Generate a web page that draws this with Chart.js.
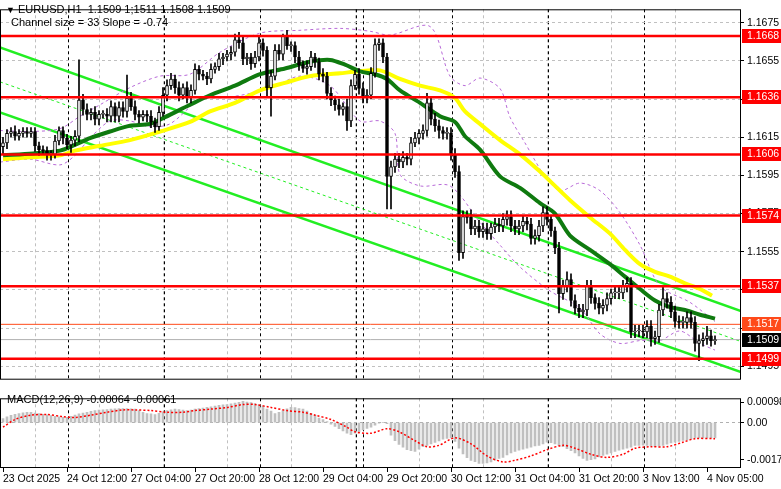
<!DOCTYPE html>
<html>
<head>
<meta charset="utf-8">
<script src="https://cdn.jsdelivr.net/npm/chart.js@4.4.1/dist/chart.umd.min.js"></script>
<style>
  body { margin: 0; width: 781px; height: 489px; background: #fff; overflow: hidden; position: relative; font-family: "Liberation Sans", sans-serif; }
  #main { position: absolute; left: 0; top: 0; }
  #macd { position: absolute; left: 0; top: 389px; }
  .txt { position: absolute; font-size: 11px; color: #000; white-space: pre; }
</style>
</head>
<body>
<canvas id="main" width="781" height="389"></canvas>
<canvas id="macd" width="781" height="100"></canvas>
<div class="txt" style="left:6px;top:3px;"><span style="font-size:9px">&#9660;</span> EURUSD,H1  1.1509 1;1511 1.1508 1.1509</div>
<div class="txt" style="left:11px;top:16px;">Channel size = 33 Slope = -0.74</div>
<div class="txt" style="left:7px;top:393px;">MACD(12,26,9) -0.00064 -0.00061</div>
<script>
document.addEventListener('DOMContentLoaded', function() {
    // --- data ---
    const timeLabels = ['23 Oct 2025', '24 Oct 12:00', '27 Oct 04:00', '27 Oct 20:00', '28 Oct 12:00', '29 Oct 04:00',
        '29 Oct 20:00', '30 Oct 12:00', '31 Oct 04:00', '31 Oct 20:00', '3 Nov 13:00', '4 Nov 05:00'];
    const firstOpen = 1.1610;
    const closes = [
        1.1612, 1.1617, 1.1618, 1.16155, 1.1617, 1.1618, 1.1617, 1.1618, 1.16105, 1.16085,
        1.1608, 1.1606, 1.1606, 1.1613, 1.16185, 1.16145, 1.1611, 1.16135, 1.16155, 1.16345,
        1.16295, 1.1627, 1.1628, 1.16245, 1.1627, 1.1627, 1.1626, 1.1631, 1.1626, 1.16305,
        1.16285, 1.16355, 1.1631, 1.1627, 1.16255, 1.1627, 1.1626, 1.1623, 1.16205, 1.1628,
        1.1637, 1.1642, 1.16455, 1.1641, 1.1637, 1.1641, 1.1636, 1.16395, 1.16505, 1.1648,
        1.1647, 1.16455, 1.16505, 1.1652, 1.1656, 1.1657, 1.16585, 1.16595, 1.1666, 1.16645,
        1.1656, 1.1657, 1.16535, 1.1657, 1.16645, 1.16605, 1.1641, 1.1647, 1.16605, 1.16585,
        1.1668, 1.1663, 1.1663, 1.1657, 1.1653, 1.1651, 1.1652, 1.1657, 1.16545, 1.1648,
        1.1647, 1.1638, 1.16345, 1.1632, 1.16295, 1.1631, 1.16235, 1.1642, 1.1648, 1.16405,
        1.1636, 1.1637, 1.16485, 1.16635, 1.16645, 1.1657, 1.15945, 1.15995, 1.16035, 1.1602,
        1.16045, 1.16035, 1.1612, 1.16145, 1.1617, 1.16185, 1.1633, 1.16245, 1.1621, 1.16185,
        1.1617, 1.1617, 1.1606, 1.1597, 1.15545, 1.15735, 1.1573, 1.1567, 1.15685, 1.15655,
        1.1567, 1.15645, 1.1568, 1.15695, 1.15685, 1.1572, 1.15735, 1.15685, 1.1567, 1.15685,
        1.1571, 1.15695, 1.1562, 1.15635, 1.15685, 1.15755, 1.1572, 1.1566, 1.1557, 1.1533,
        1.1537, 1.15405, 1.15295, 1.15255, 1.15235, 1.15245, 1.1537, 1.1531, 1.1528, 1.15255,
        1.1527, 1.15305, 1.15335, 1.15335, 1.15335, 1.1537, 1.15385, 1.1513, 1.15135, 1.15135,
        1.1513, 1.1516, 1.15095, 1.15105, 1.15245, 1.15305, 1.15285, 1.15235, 1.15185, 1.1518,
        1.1518, 1.15205, 1.1518, 1.1507, 1.15085, 1.15095, 1.1511, 1.15085, 1.1509
    ];
    // wick length above / below the body, in pips
    const upperWick = [
        3,2,2,3,2,2,2,2,2,2,2,2,2,3,2,2,2,2,3,21,
        3,3,2,3,2,2,3,3,2,3,3,12,3,3,2,2,2,3,2,3,
        4,3,3,2,3,2,3,3,3,2,2,2,3,2,3,2,2,3,3,4,
        3,2,2,3,3,2,2,3,3,3,1,3,2,2,3,2,3,3,2,2,
        3,2,3,2,3,2,4,3,2,3,3,3,3,3,2,2,2,3,3,3,
        3,2,3,3,2,3,5,3,3,3,2,3,3,3,3,3,3,4,3,3,
        3,3,2,3,3,3,3,3,3,3,3,2,3,3,3,3,3,2,2,3,
        3,4,3,3,2,3,3,3,2,3,3,3,2,3,3,3,3,3,3,3,
        3,3,3,3,3,6,3,3,3,3,3,3,3,3,3,3,5,3,2
    ];
    const lowerWick = [
        4,3,2,2,2,2,2,2,3,3,2,3,3,2,2,3,2,4,3,3,
        3,3,3,3,3,2,3,3,3,3,3,3,2,3,3,2,3,3,3,2,
        2,3,2,3,3,2,3,3,2,3,2,3,2,2,2,3,2,3,2,3,
        3,3,3,2,2,3,5,15,2,3,3,2,3,3,3,2,3,2,3,3,
        3,3,3,3,3,3,5,3,2,3,3,3,2,2,3,3,17,17,3,3,
        3,3,3,2,3,3,3,3,3,4,3,3,3,3,4,3,3,3,3,3,
        3,3,3,3,3,3,3,3,3,3,3,3,3,3,3,3,3,3,3,10,
        3,3,3,3,3,3,3,3,3,3,3,3,3,3,3,3,3,3,3,3,
        3,3,4,3,3,3,3,3,3,3,3,3,3,4,9,3,3,3,2
    ];
    // moving averages, [bar, price]
    const maFast = [[0,1.16055],[7.5,1.16065],[14.25,1.1608],[18,1.1611],[21.75,1.16145],[26.75,1.1618],
        [31.75,1.1621],[36.75,1.1622],[40.5,1.16255],[46.75,1.1632],[51.75,1.1637],[58,1.1642],[64.25,1.1648],
        [70.5,1.1651],[76.75,1.16545],[81.75,1.16555],[85.5,1.1653],[89.25,1.16495],[93,1.1648],[96,1.16455],
        [99.25,1.16395],[104.25,1.1633],[109.25,1.1626],[113,1.1623],[115.5,1.16155],[119.25,1.16085],
        [124.25,1.15945],[129.25,1.15885],[134.25,1.15805],[138,1.1575],[141.75,1.15635],[146.75,1.1556],
        [151.75,1.15485],[155.5,1.1542],[159.25,1.15355],[163,1.15295],[166.75,1.1526],[170.5,1.15245],
        [174.25,1.1522],[178,1.152]];
    const maSlow = [[0,1.16035],[6.75,1.16045],[14.25,1.16055],[18,1.1608],[24.25,1.16105],[31.75,1.16135],
        [39.25,1.1618],[46.75,1.1623],[51.75,1.16285],[58,1.1633],[64.25,1.16395],[70.5,1.16435],[76.75,1.1647],
        [84.25,1.16485],[89.25,1.16495],[94.25,1.165],[99.25,1.16455],[104.25,1.1642],[109.25,1.16395],
        [113,1.16355],[115.5,1.16285],[119.25,1.1622],[124.25,1.16135],[129.25,1.1606],[134.25,1.1597],
        [138,1.15895],[141.75,1.1582],[146.75,1.1573],[151.75,1.15645],[155.5,1.1556],[159.25,1.15485],
        [163,1.15445],[166.75,1.1542],[170.5,1.15385],[174.25,1.15355],[177.25,1.1532]];
    const bandUpper = [[-0.75,1.16185],[6.75,1.1618],[14.25,1.16195],[19.25,1.1626],[24.25,1.1632],[31.75,1.1641],
        [39.25,1.1647],[46.75,1.1648],[54.25,1.16595],[64.25,1.16695],[74.25,1.1671],[84.25,1.1672],[91.75,1.16705],
        [96.75,1.16685],[106.75,1.1673],[111.75,1.1647],[115.5,1.1642],[119.25,1.1646],[124.25,1.16405],
        [126.75,1.16255],[130.5,1.1612],[135.5,1.15945],[139.25,1.1587],[144.25,1.1591],[149.25,1.1587],
        [154.25,1.15755],[159.25,1.15585],[164.25,1.1537],[171.75,1.15285],[178,1.15185]];
    const bandLower = [[-0.75,1.1602],[6.75,1.16035],[14.25,1.16005],[18,1.16055],[21.75,1.16145],[26.75,1.16235],
        [31.75,1.16235],[36.75,1.16205],[41.75,1.1622],[49.25,1.16345],[56.75,1.1636],[66.75,1.16405],[74.25,1.1647],
        [81.75,1.1642],[89.25,1.16235],[94.25,1.16235],[98,1.1617],[99.25,1.15955],[104.25,1.15895],[111.75,1.15895],
        [119.25,1.15705],[124.25,1.15585],[129.25,1.1547],[136.75,1.15345],[144.25,1.15255],[149.25,1.1512],
        [154.25,1.1507],[159.25,1.15085],[164.25,1.15085],[169.25,1.15135],[174.25,1.1507],[178,1.15035]];
    // regression channel
    const channelTop = [[-0.75,1.1662],[184.5,1.1524]];
    const channelMid = [[-0.75,1.1644],[184.5,1.1508]];
    const channelBottom = [[-0.75,1.1628],[184.5,1.1492]];
    const levels = [1.1668, 1.1636, 1.1606, 1.1574, 1.1537, 1.1499];
    const askLevel = 1.1517;
    const bidLevel = 1.1509;
    const priceTicks = [1.1495, 1.1515, 1.1535, 1.1555, 1.1575, 1.1595, 1.1615, 1.1635, 1.1655, 1.1675];
    // MACD, in units of 0.00001
    const macdHist = [
        20,28,35,40,44,47,50,49,46,44, 40,37,34,30,28,26,25,30,36,42,
        46,50,54,58,60,62,63,65,66,67, 68,67,66,65,58,50,44,42,39,45,
        52,58,62,65,63,60,58,60,65,68, 70,73,76,80,83,86,87,90,94,98,
        102,99,97,92,87,80,65,55,44,50, 58,66,73,72,68,65,55,45,36,22,
        15,5,-7,-18,-29,-40,-50,-58,-50,-44, -35,-28,-22,-12,-3,0,-5,-60,-87,-105,
        -118,-130,-135,-138,-128,-116,-110,-102,-95,-88, -80,-76,-73,-90,-123,-150,-168,-181,-188,-196,
        -196,-194,-189,-180,-172,-167,-155,-145,-138,-132, -128,-123,-118,-112,-109,-102,-94,-96,-102,-110,
        -116,-125,-135,-145,-160,-172,-181,-178,-174,-165, -158,-152,-145,-138,-132,-128,-123,-118,-109,-109,
        -108,-109,-112,-116,-113,-109,-104,-98,-94,-90, -86,-83,-78,-73,-73,-73,-73,-73,-73
    ];
    const macdSignal = [[0,-22],[3,15],[7,36],[11,39],[15,29],[18,25],[22,36],[26,50],[30,61],[33,61],[37,58],
        [41,50],[45,50],[48,58],[52,65],[56,73],[60,87],[63,87],[67,73],[71,58],[75,50],[78,36],[82,15],[86,-22],
        [88,-44],[92,-51],[96,-29],[99,-44],[103,-87],[106,-116],[109,-109],[113,-73],[117,-102],[121,-160],
        [125,-189],[128,-181],[132,-160],[136,-130],[140,-109],[143,-123],[147,-152],[151,-167],[155,-152],
        [158,-123],[162,-116],[166,-116],[170,-94],[173,-77],[178,-77]];
    const macdTicks = [0.00098, 0, -0.00179];

    // --- layout helpers ---
    const X_MIN = -0.75, X_MAX = 184.5, AXIS_W = 40;
    const labelBars = timeLabels.map((t, i) => i * 16);
    const dayBars = [];
    for (let b = 4.25; b < X_MAX; b += 24) dayBars.push(b);
    const gridBars = labelBars.concat(dayBars);
    const pts = arr => arr.map(p => ({ x: p[0], y: p[1] }));
    const span = v => [{ x: X_MIN, y: v }, { x: X_MAX, y: v }];
    const font = { family: 'Liberation Sans', size: 10.5 };

    // candles: open is previous close
    const opens = closes.map((c, i) => i === 0 ? firstOpen : closes[i - 1]);
    const bodies = closes.map((c, i) => ({ x: i, y: [opens[i], c] }));
    const wicks = closes.map((c, i) => ({
        x: i,
        y: [Math.min(opens[i], c) - lowerWick[i] / 10000, Math.max(opens[i], c) + upperWick[i] / 10000]
    }));
    const bodyFill = closes.map((c, i) => c >= opens[i] ? '#ffffff' : '#000000');

    const xGrid = {
        type: 'linear', min: X_MIN, max: X_MAX, offset: false,
        afterBuildTicks: s => { s.ticks = gridBars.map(v => ({ value: v })); },
        ticks: { display: false },
        grid: { color: c => (c.tick && dayBars.includes(c.tick.value) ? '#000000' : '#c0c0c0'), drawTicks: false, lineWidth: 1 },
        border: { display: false, dash: [3, 3] },
        afterFit: s => { s.height = 0; }
    };

    const frame = {
        id: 'frame',
        afterDraw(chart) {
            const a = chart.chartArea, ctx = chart.ctx;
            ctx.save();
            ctx.strokeStyle = '#000';
            ctx.lineWidth = 1;
            ctx.strokeRect(a.left + 0.5, a.top + 0.5, a.right - a.left - 1, a.bottom - a.top - 1);
            ctx.restore();
        }
    };

    const levelTags = {
        id: 'levelTags',
        afterDraw(chart) {
            const y = chart.scales.y, ctx = chart.ctx, left = chart.chartArea.right + 1;
            const tag = (v, bg) => {
                const py = Math.round(y.getPixelForValue(v));
                ctx.fillStyle = bg;
                ctx.fillRect(left, py - 7, 781 - left, 14);
                ctx.fillStyle = '#fff';
                ctx.font = '10.5px "Liberation Sans"';
                ctx.textBaseline = 'middle';
                ctx.fillText(v.toFixed(4), left + 5, py);
            };
            ctx.save();
            levels.forEach(v => tag(v, '#ff0000'));
            tag(askLevel, '#ff4a1a');
            tag(bidLevel, '#000000');
            ctx.restore();
        }
    };

    new Chart(document.getElementById('main'), {
        data: {
            datasets: [
                { type: 'line', data: pts(channelTop), borderColor: '#22ee22', borderWidth: 2.5, pointRadius: 0, order: 9 },
                { type: 'line', data: pts(channelMid), borderColor: '#22ee22', borderWidth: 1, borderDash: [3, 3], pointRadius: 0, order: 9 },
                { type: 'line', data: pts(channelBottom), borderColor: '#22ee22', borderWidth: 2.5, pointRadius: 0, order: 9 },
                { type: 'line', data: pts(bandUpper), borderColor: '#b86ad8', borderWidth: 1, borderDash: [3, 3], pointRadius: 0, tension: 0.3, order: 8 },
                { type: 'line', data: pts(bandLower), borderColor: '#b86ad8', borderWidth: 1, borderDash: [3, 3], pointRadius: 0, tension: 0.3, order: 8 },
                { type: 'line', data: pts(maSlow), borderColor: '#ffff00', borderWidth: 4, pointRadius: 0, tension: 0.3, order: 7 },
                { type: 'line', data: pts(maFast), borderColor: '#0f7a0f', borderWidth: 4, pointRadius: 0, tension: 0.3, order: 6 },
                { type: 'line', data: span(bidLevel), borderColor: '#b0b0b0', borderWidth: 1, pointRadius: 0, order: 5 },
                { type: 'line', data: span(askLevel), borderColor: '#ff4a1a', borderWidth: 1, pointRadius: 0, order: 5 },
                { type: 'bar', data: wicks, backgroundColor: '#000', barThickness: 1, grouped: false, order: 3 },
                { type: 'bar', data: bodies, backgroundColor: bodyFill, borderColor: '#000', borderWidth: 1,
                  borderSkipped: false, barThickness: 3, minBarLength: 1, grouped: false, order: 2 },
                ...levels.map(v => ({ type: 'line', data: span(v), borderColor: '#ff0000', borderWidth: 2.5, pointRadius: 0, order: 1 }))
            ]
        },
        options: {
            responsive: false, animation: false, events: [],
            layout: { padding: 0 },
            plugins: { legend: { display: false }, tooltip: { enabled: false } },
            scales: {
                x: xGrid,
                y: {
                    position: 'right', min: 1.1488, max: 1.1682,
                    afterBuildTicks: s => { s.ticks = priceTicks.map(v => ({ value: v })); },
                    afterFit: s => { s.width = AXIS_W; },
                    ticks: { font: font, color: '#000', padding: 3, callback: v => v.toFixed(4) },
                    grid: { color: '#c0c0c0', tickColor: '#000', tickLength: 3 },
                    border: { display: false, dash: [3, 3] }
                }
            }
        },
        plugins: [frame, levelTags]
    });

    new Chart(document.getElementById('macd'), {
        data: {
            datasets: [
                { type: 'bar', data: macdHist.map((v, i) => ({ x: i, y: v / 100000 })), backgroundColor: '#c0c0c0',
                  barThickness: 2, grouped: false, order: 2 },
                { type: 'line', data: macdSignal.map(p => ({ x: p[0], y: p[1] / 100000 })), borderColor: '#ff0000',
                  borderWidth: 1.5, borderDash: [2, 2], pointRadius: 0, tension: 0.3, order: 1 }
            ]
        },
        options: {
            responsive: false, animation: false, events: [],
            layout: { padding: { top: 2 } },
            plugins: { legend: { display: false }, tooltip: { enabled: false } },
            scales: {
                x: xGrid,
                xl: {
                    type: 'linear', position: 'bottom', min: X_MIN, max: X_MAX, offset: false,
                    afterBuildTicks: s => { s.ticks = labelBars.map(v => ({ value: v })); },
                    afterFit: s => { s.height = 21; },
                    ticks: { font: font, color: '#000', align: 'start', maxRotation: 0, autoSkip: false, padding: 1,
                             callback: (v, i) => timeLabels[i] },
                    grid: { drawOnChartArea: false, color: '#000', tickLength: 4 },
                    border: { display: false }
                },
                y: {
                    position: 'right', min: -0.00218, max: 0.00117,
                    afterBuildTicks: s => { s.ticks = macdTicks.map(v => ({ value: v })); },
                    afterFit: s => { s.width = AXIS_W; },
                    ticks: { font: font, color: '#000', padding: 3, callback: v => v === 0 ? '0.00' : v.toFixed(5) },
                    grid: { color: c => (c.tick && c.tick.value === 0 ? '#b0b0b0' : 'rgba(0,0,0,0)'), tickColor: '#000', tickLength: 3 },
                    border: { display: false, dash: [3, 3] }
                }
            }
        },
        plugins: [frame]
    });
});
</script>
</body>
</html>
